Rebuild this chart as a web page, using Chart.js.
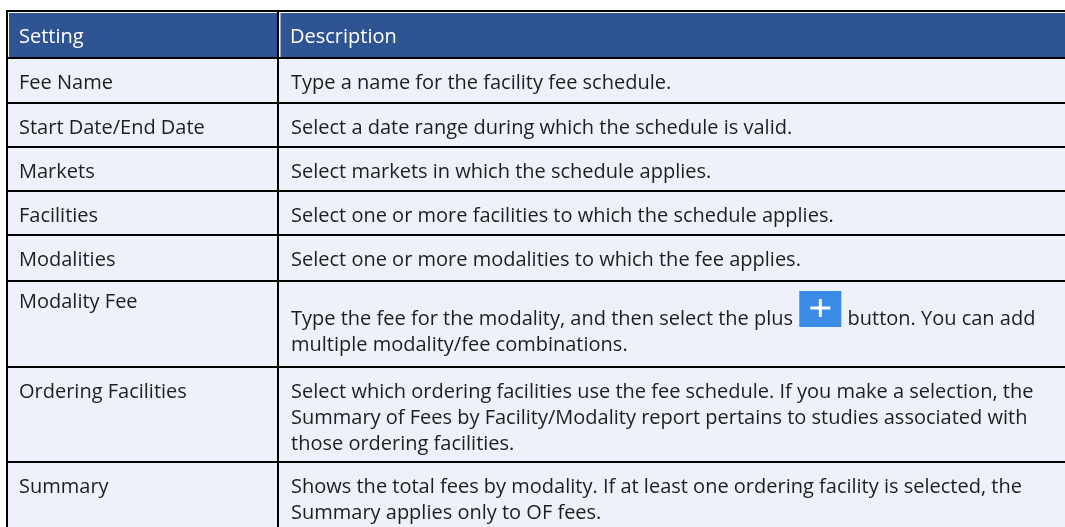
<!DOCTYPE html>
<html>
<head>
<meta charset="utf-8">
<title>Facility fee schedule settings</title>
<script src="https://cdn.jsdelivr.net/npm/chart.js@4.4.1/dist/chart.umd.min.js"></script>
<style>
  html, body { margin: 0; padding: 0; background: #ffffff; }
  #wrap { width: 1065px; height: 527px; }
</style>
</head>
<body>
<div id="wrap"><canvas id="feeTable" width="1065" height="527"></canvas></div>
<script>
// table content
const headers = ['Setting', 'Description'];
const settings = [
  'Fee Name',
  'Start Date/End Date',
  'Markets',
  'Facilities',
  'Modalities',
  'Modality Fee',
  'Ordering Facilities',
  'Summary'
];
// [+] marks where the plus button icon sits in the text
const descriptions = [
  ['Type a name for the facility fee schedule.'],
  ['Select a date range during which the schedule is valid.'],
  ['Select markets in which the schedule applies.'],
  ['Select one or more facilities to which the schedule applies.'],
  ['Select one or more modalities to which the fee applies.'],
  ['Type the fee for the modality, and then select the plus [+] button. You can add',
   'multiple modality/fee combinations.'],
  ['Select which ordering facilities use the fee schedule. If you make a selection, the',
   'Summary of Fees by Facility/Modality report pertains to studies associated with',
   'those ordering facilities.'],
  ['Shows the total fees by modality. If at least one ordering facility is selected, the',
   'Summary applies only to OF fees.']
];

// layout (in scale units, 1 unit = 1px here)
const tableTop = 11;
const rowHeights = [47, 45, 44, 44, 44, 46, 86, 95, 80]; // header first
const colEdges = [7, 278, 1080];
const padX = 12;
const firstBaseline = 31;
const lineGap = 26;

const headerBlue = '#2E5494';
const cellBg = '#EEF1F9';
const lineColor = '#000000';
const textColor = '#1e1e1e';
const iconBlue = '#3A8CE6';
const font = '20px "Open Sans"';

const tablePlugin = {
  id: 'tableCells',
  afterDatasetsDraw(chart) {
    const ctx = chart.ctx;
    const x = chart.scales.x;
    const y = chart.scales.y;

    // row edges
    const rowEdges = [tableTop];
    rowHeights.forEach(h => rowEdges.push(rowEdges[rowEdges.length - 1] + h));

    const xl = x.getPixelForValue(colEdges[0]);
    const xm = x.getPixelForValue(colEdges[1]);
    const xr = x.getPixelForValue(colEdges[2]);

    ctx.save();

    // header band: white inner edge then blue fill
    const hTop = y.getPixelForValue(rowEdges[0]);
    const hBot = y.getPixelForValue(rowEdges[1]);
    ctx.fillStyle = '#ffffff';
    ctx.fillRect(xl, hTop, xr - xl, hBot - hTop);
    ctx.fillStyle = headerBlue;
    ctx.fillRect(xl + 2, hTop + 2, xm - xl - 3, hBot - hTop - 3);
    ctx.fillRect(xm + 2.5, hTop + 2, xr - xm, hBot - hTop - 3);

    // body cells
    const bTop = hBot;
    const bBot = y.getPixelForValue(rowEdges[rowEdges.length - 1]);
    ctx.fillStyle = cellBg;
    ctx.fillRect(xl, bTop, xr - xl, bBot - bTop);

    // grid lines
    ctx.strokeStyle = lineColor;
    ctx.lineWidth = 2;
    ctx.beginPath();
    for (let i = 0; i < rowEdges.length - 1; i++) {
      const yy = y.getPixelForValue(rowEdges[i]);
      ctx.moveTo(xl - 1, yy);
      ctx.lineTo(xr, yy);
    }
    [xl, xm].forEach(xx => {
      ctx.moveTo(xx, hTop - 1);
      ctx.lineTo(xx, bBot);
    });
    ctx.stroke();

    // text
    ctx.font = font;
    ctx.textBaseline = 'alphabetic';
    ctx.textAlign = 'left';

    ctx.fillStyle = '#ffffff';
    headers.forEach((h, c) => {
      ctx.fillText(h, x.getPixelForValue(colEdges[c] + padX), y.getPixelForValue(rowEdges[0] + firstBaseline + 1));
    });

    settings.forEach((s, r) => {
      const top = rowEdges[r + 1];
      const hasIcon = descriptions[r].some(l => l.includes('[+]'));
      ctx.fillStyle = textColor;
      ctx.fillText(s, x.getPixelForValue(colEdges[0] + padX), y.getPixelForValue(top + firstBaseline - (hasIcon ? 4 : 0)));

      let base = top + firstBaseline + (hasIcon ? 13 : 0);
      descriptions[r].forEach(line => {
        let cx = x.getPixelForValue(colEdges[1] + padX + 1);
        const by = y.getPixelForValue(base);
        const parts = line.split('[+]');
        parts.forEach((p, k) => {
          ctx.fillStyle = textColor;
          ctx.fillText(p, cx, by);
          cx += ctx.measureText(p).width;
          if (k < parts.length - 1) {
            // plus button icon
            const iw = 42, ih = 36;
            const ix = cx + 1, iy = by - 34;
            ctx.fillStyle = iconBlue;
            ctx.fillRect(ix, iy, iw, ih);
            ctx.strokeStyle = '#ffffff';
            ctx.lineWidth = 3;
            ctx.beginPath();
            ctx.moveTo(ix + 11, iy + 17);
            ctx.lineTo(ix + 31, iy + 17);
            ctx.moveTo(ix + 21, iy + 8);
            ctx.lineTo(ix + 21, iy + 26);
            ctx.stroke();
            cx = ix + iw + 1;
          }
        });
        base += lineGap;
      });
    });

    ctx.restore();
  }
};

new Chart(document.getElementById('feeTable'), {
  type: 'scatter',
  data: { datasets: [{ data: [] }] },
  options: {
    responsive: false,
    animation: false,
    devicePixelRatio: 1,
    layout: { padding: 0 },
    plugins: { legend: { display: false }, tooltip: { enabled: false } },
    scales: {
      x: { type: 'linear', min: 0, max: 1065, display: false },
      y: { type: 'linear', min: 0, max: 527, reverse: true, display: false }
    }
  },
  plugins: [tablePlugin]
});
</script>
</body>
</html>
